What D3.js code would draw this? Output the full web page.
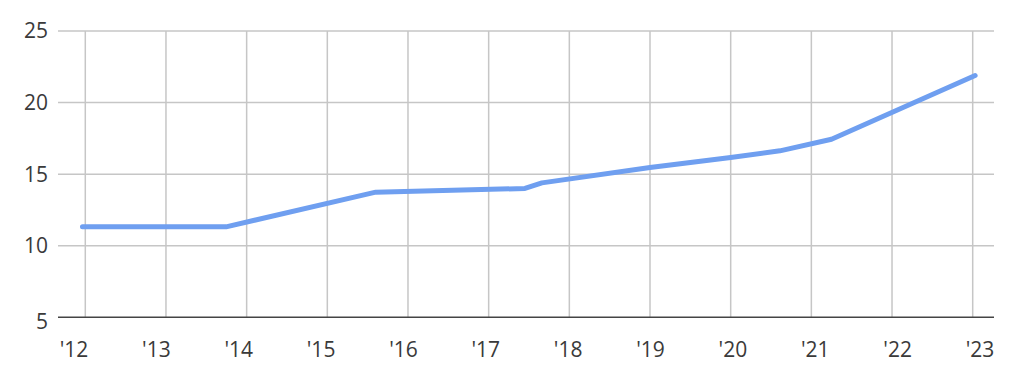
<!DOCTYPE html>
<html>
<head>
<meta charset="utf-8">
<script src="https://cdn.jsdelivr.net/npm/d3@7"></script>
<style>
  html, body { margin: 0; padding: 0; background: #fff; }
  svg { display: block; }
  text { font-family: "Open Sans", "Noto Sans", sans-serif; fill: #3a3a3a; }
</style>
</head>
<body>
<svg id="svg" width="1024" height="385"></svg>
<script>
// data: decimal year, value
const years = [2011.965, 2013.745, 2015.6, 2017.45, 2017.66, 2019.0, 2020.0, 2020.61, 2021.25, 2023.03];
const values = [11.32, 11.32, 13.74, 14.0, 14.39, 15.47, 16.17, 16.63, 17.44, 21.89];

const gridYears = [2012, 2013, 2014, 2015, 2016, 2017, 2018, 2019, 2020, 2021, 2022, 2023];
const xLabels = ["'12", "'13", "'14", "'15", "'16", "'17", "'18", "'19", "'20", "'21", "'22", "'23"];
const yTicks = [5, 10, 15, 20, 25];

const plotLeft = 58;
const plotRight = 994;
const plotTop = 31;
const plotBottom = 317.3;

const svg = d3.select("#svg");

const x = d3.scaleLinear().domain([2012, 2023]).range([85.3, 972.7]);
const y = d3.scaleLinear().domain([5, 25]).range([plotBottom, plotTop]);
const xl = d3.scalePoint().domain(xLabels).range([74, 980]);

const grid = svg.append("g");

// horizontal grid
yTicks.slice(1).forEach(t => {
  grid
    .append("line")
    .attr("x1", plotLeft)
    .attr("x2", plotRight)
    .attr("y1", y(t))
    .attr("y2", y(t))
    .attr("stroke", "#c6c6c6")
    .attr("stroke-width", 1.5);
});

// vertical grid
gridYears.forEach(yr => {
  grid
    .append("line")
    .attr("x1", x(yr))
    .attr("x2", x(yr))
    .attr("y1", plotTop)
    .attr("y2", plotBottom)
    .attr("stroke", "#c6c6c6")
    .attr("stroke-width", 1.5);
});

// baseline
svg
  .append("line")
  .attr("x1", plotLeft)
  .attr("x2", plotRight)
  .attr("y1", y(5))
  .attr("y2", y(5))
  .attr("stroke", "#444")
  .attr("stroke-width", 1.5);

// y labels
yTicks.forEach(t => {
  svg
    .append("text")
    .attr("x", 48)
    .attr("y", y(t) + (t === 5 ? 4 : 0))
    .attr("dy", "0.35em")
    .attr("text-anchor", "end")
    .attr("font-size", 21)
    .text(t);
});

// x labels
xLabels.forEach(l => {
  svg
    .append("text")
    .attr("x", xl(l))
    .attr("y", 357)
    .attr("text-anchor", "middle")
    .attr("font-size", 21)
    .text(l);
});

const pts = years.map((yr, i) => [yr, values[i]]);
const line = d3
  .line()
  .x(d => x(d[0]))
  .y(d => y(d[1]));

svg
  .append("path")
  .datum(pts)
  .attr("d", line)
  .attr("fill", "none")
  .attr("stroke", "#6f9ff0")
  .attr("stroke-width", 5)
  .attr("stroke-linecap", "round")
  .attr("stroke-linejoin", "round");
</script>
</body>
</html>
